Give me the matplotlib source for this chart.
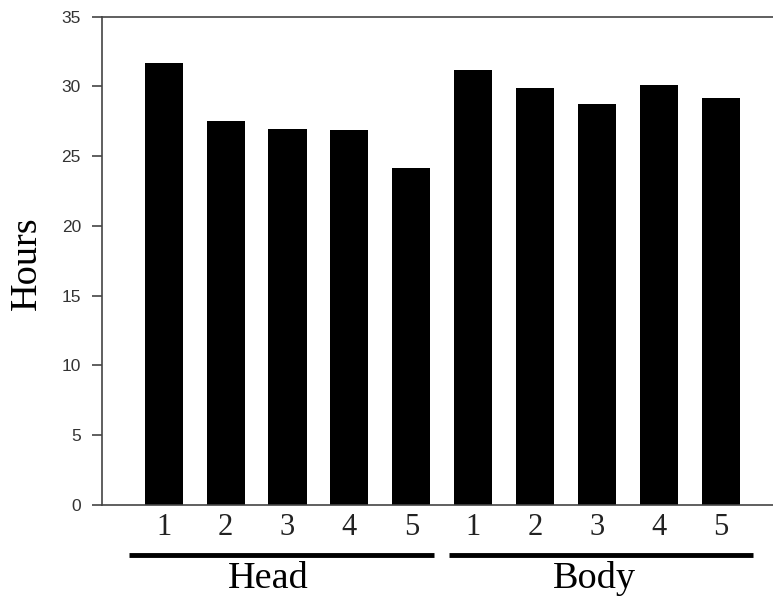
import numpy as np
import matplotlib.pyplot as plt

# Dữ liệu
groups = ['Head', 'Body']
bar_labels = ['1', '2', '3', '4', '5', '1', '2', '3', '4', '5']
hours = [31.7, 27.5, 26.95, 26.9, 24.15, 31.2, 29.85, 28.75, 30.1, 29.2]

x = np.arange(len(hours))

fig = plt.figure(figsize=(7.73, 6.04), dpi=100)
ax = fig.add_axes([0.1316, 0.1644, 0.8684, 0.808])

ax.bar(x, hours, width=0.615, color='black')

ax.set_xlim(-1, 9.84)
ax.set_ylim(0, 35)
ax.set_yticks(np.arange(0, 36, 5))

spine_color = '#444444'
for s in ['left', 'bottom', 'top']:
    ax.spines[s].set_color(spine_color)
    ax.spines[s].set_linewidth(1.2)
ax.spines['right'].set_visible(False)

ax.tick_params(axis='y', direction='out', length=7, width=1.2, color=spine_color,
               pad=8, labelsize=12.5, labelcolor='#333333')
for lbl in ax.get_yticklabels():
    lbl.set_fontfamily('Liberation Sans')

ax.set_xticks(x)
ax.set_xticklabels(bar_labels, fontfamily='Liberation Serif', fontsize=22, color='#222222')
ax.tick_params(axis='x', length=0, pad=6)

# Đường gạch dưới nhóm và nhãn nhóm
trans = ax.get_xaxis_transform()
ax.plot([-0.56, 4.37], [-0.103, -0.103], color='black', lw=3.5, transform=trans, clip_on=False,
        solid_capstyle='butt')
ax.plot([4.6, 9.52], [-0.103, -0.103], color='black', lw=3.5, transform=trans, clip_on=False,
        solid_capstyle='butt')
ax.text(1.69, -0.1707, groups[0], transform=trans, ha='center', va='baseline',
        fontfamily='Liberation Serif', fontsize=27.5)
ax.text(6.95, -0.1707, groups[1], transform=trans, ha='center', va='baseline',
        fontfamily='Liberation Serif', fontsize=27.5)

fig.text(27 / 773, 1 - 263 / 604, 'Hours', rotation=90, ha='center', va='center',
         fontfamily='Liberation Serif', fontsize=27.5)

fig.savefig('out.png', dpi=100)
